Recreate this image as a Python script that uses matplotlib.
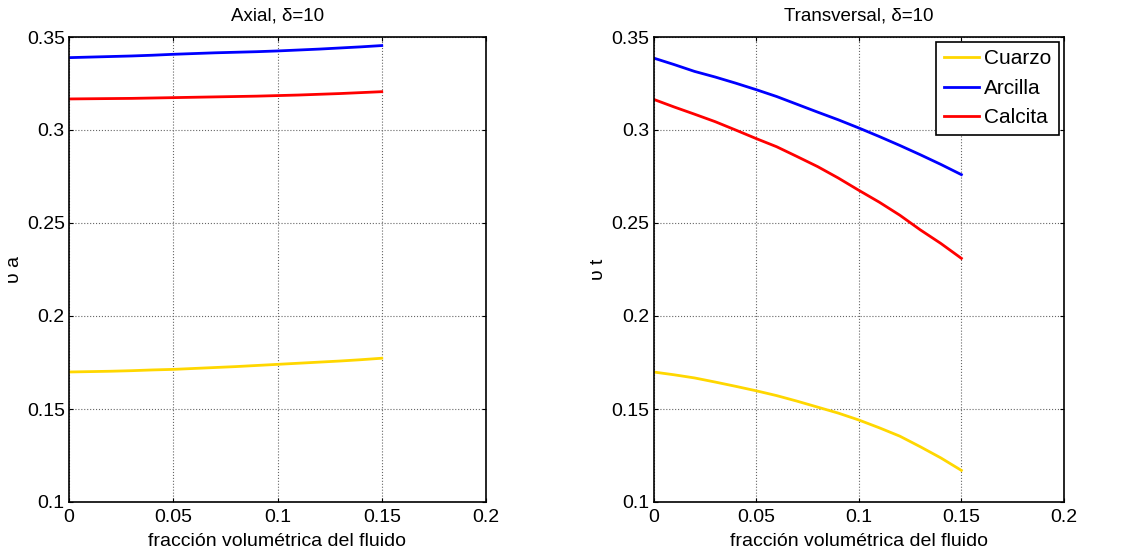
import matplotlib.pyplot as plt
import numpy as np

plt.rcParams['font.family'] = ['Liberation Sans', 'DejaVu Sans']

# fracción volumétrica del fluido
phi = [0.00, 0.01, 0.02, 0.03, 0.04, 0.05, 0.06, 0.07,
       0.08, 0.09, 0.10, 0.11, 0.12, 0.13, 0.14, 0.15]

# axial Poisson ratio
axial_cuarzo = [0.1699, 0.1701, 0.1703, 0.1706, 0.1710, 0.1713, 0.1718, 0.1723,
                0.1728, 0.1734, 0.1740, 0.1746, 0.1752, 0.1758, 0.1765, 0.1773]
axial_arcilla = [0.3389, 0.3392, 0.3395, 0.3398, 0.3402, 0.3407, 0.3411, 0.3415,
                 0.3418, 0.3421, 0.3425, 0.3430, 0.3435, 0.3441, 0.3447, 0.3454]
axial_calcita = [0.3167, 0.3168, 0.3169, 0.3170, 0.3172, 0.3174, 0.3176, 0.3178,
                 0.3180, 0.3182, 0.3185, 0.3188, 0.3192, 0.3196, 0.3201, 0.3206]

# transversal Poisson ratio
trans_cuarzo = [0.1699, 0.1684, 0.1667, 0.1645, 0.1622, 0.1598, 0.1572, 0.1542,
                0.1510, 0.1478, 0.1441, 0.1399, 0.1354, 0.1297, 0.1237, 0.1170]
trans_arcilla = [0.3387, 0.3352, 0.3315, 0.3285, 0.3252, 0.3217, 0.3180, 0.3138,
                 0.3096, 0.3055, 0.3011, 0.2965, 0.2917, 0.2867, 0.2815, 0.2760]
trans_calcita = [0.3165, 0.3124, 0.3085, 0.3045, 0.3000, 0.2954, 0.2910, 0.2857,
                 0.2803, 0.2742, 0.2676, 0.2612, 0.2542, 0.2463, 0.2390, 0.2310]

labels = ['Cuarzo', 'Arcilla', 'Calcita']
colors = ['#FFD700', '#0000FF', '#FF0000']

W, H = 1128, 556
fig = plt.figure(figsize=(W / 100, H / 100), dpi=100)
ax1 = fig.add_axes([69 / W, 54 / H, 417 / W, 465 / H])
ax2 = fig.add_axes([653.5 / W, 54 / H, 410.5 / W, 465 / H])


def style_axes(ax, title, ylabel):
    ax.set_xlim(0, 0.2)
    ax.set_ylim(0.1, 0.35)
    ax.set_xticks([0, 0.05, 0.1, 0.15, 0.2])
    ax.set_xticklabels(['0', '0.05', '0.1', '0.15', '0.2'])
    ax.set_yticks([0.1, 0.15, 0.2, 0.25, 0.3, 0.35])
    ax.set_yticklabels(['0.1', '0.15', '0.2', '0.25', '0.3', '0.35'])
    ax.tick_params(direction='in', top=True, right=True, length=3, labelsize=14)
    ax.tick_params(axis='x', pad=5)
    ax.tick_params(axis='y', pad=3)
    ax.grid(True, linestyle=':', color='#666666', linewidth=0.8)
    for s in ax.spines.values():
        s.set_linewidth(1.2)
    ax.set_title(title, fontsize=13.5, pad=12)
    ax.set_xlabel('fracción volumétrica del fluido', fontsize=14, labelpad=5)
    ax.set_ylabel(ylabel, fontsize=14, labelpad=3)


for ys, c, lab in zip([axial_cuarzo, axial_arcilla, axial_calcita], colors, labels):
    ax1.plot(phi, ys, color=c, linewidth=2, label=lab)
style_axes(ax1, 'Axial, δ=10', 'υ a')

for ys, c, lab in zip([trans_cuarzo, trans_arcilla, trans_calcita], colors, labels):
    ax2.plot(phi, ys, color=c, linewidth=2, label=lab)
style_axes(ax2, 'Transversal, δ=10', 'υ t')

leg = ax2.legend(loc='upper right', fontsize=15, fancybox=False, framealpha=1,
                 edgecolor='black', borderpad=0.35, handlelength=1.7, handletextpad=0.25,
                 labelspacing=0.5, borderaxespad=0.25)
leg.get_frame().set_linewidth(1.2)

fig.savefig('out.png', dpi=100)
